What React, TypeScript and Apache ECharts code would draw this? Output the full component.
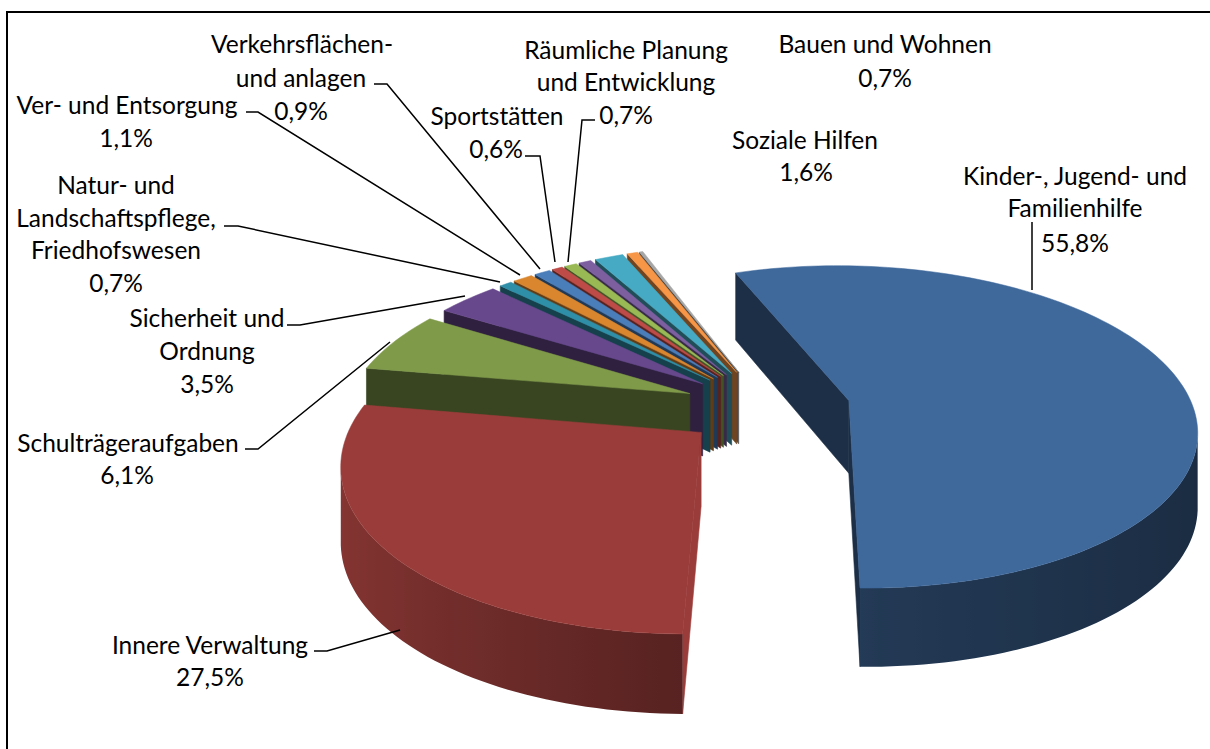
import React, { useEffect, useRef } from "react";
import * as echarts from "echarts";

const names = ["Kinder-, Jugend- und Familienhilfe","Innere Verwaltung","Schulträgeraufgaben","Sicherheit und Ordnung","Natur- und Landschaftspflege, Friedhofswesen","Ver- und Entsorgung","Verkehrsflächen- und anlagen","Sportstätten","Räumliche Planung und Entwicklung","Bauen und Wohnen","Soziale Hilfen","Sonstige 1","Sonstige 2"];
const shares = [55.8, 27.5, 6.1, 3.5, 0.7, 1.1, 0.9, 0.6, 0.7, 0.7, 1.6, 0.6, 0.2];
const colors = ["#3F689B","#9A3D3A","#7F9A49","#68488C","#2F8FA8","#D9862F","#4A7EBB","#BE4B48","#98B954","#7D5FA0","#46AAC4","#F79646","#A6A6A6"];

const labelLines: [string, number, number][][] = [
  [["Verkehrsflächen-",302,43],["und anlagen",301,77],["0,9%",301,110]],
  [["Ver- und Entsorgung",127,104],["1,1%",126,137]],
  [["Natur- und",116,184],["Landschaftspflege,",116,217],["Friedhofswesen",116,249],["0,7%",116,282]],
  [["Sicherheit und",207,317],["Ordnung",207,350],["3,5%",207,383]],
  [["Schulträgeraufgaben",128,442],["6,1%",127,474]],
  [["Innere Verwaltung",210,644],["27,5%",210,676]],
  [["Räumliche Planung",626,49],["und Entwicklung",626,81],["0,7%",626,114]],
  [["Sportstätten",497,115],["0,6%",496,148]],
  [["Bauen und Wohnen",885,43],["0,7%",885,77]],
  [["Soziale Hilfen",805,139],["1,6%",806,171]],
  [["Kinder-, Jugend- und",1075,175],["Familienhilfe",1075,207],["55,8%",1075,242]],
];
const leaders: number[][][] = [
  [[374,84],[387,84],[540,269]],
  [[246,112],[258,112],[520,275]],
  [[224,226],[238,226],[500,282]],
  [[287,325],[300,325],[465,296]],
  [[245,449],[258,449],[390,342]],
  [[314,651],[327,651],[400,630]],
  [[595,120],[582,120],[568,262]],
  [[525,156],[540,156],[555,262]],
  [[1032,222],[1032,290]],
];

const VX = 767, VY = 407, A = 344, B = 159, K = 0.165, EXPLODE = 0.243, START = -20.2;

function project(X: number, Y: number) {
  const s = 1 / (1 + K * Y);
  return [VX + A * X * s, VY - B * Y * s];
}
function height(Y: number) { return 73 - 6 * Y; }
function shade(hex: string, f: number) {
  const n = parseInt(hex.slice(1), 16);
  const c = [(n >> 16) & 255, (n >> 8) & 255, n & 255].map((v) => Math.round(v * f));
  return `rgb(${c[0]},${c[1]},${c[2]})`;
}
const rad = (d: number) => (d * Math.PI) / 180;
function area(p: number[][]) {
  let a = 0;
  for (let i = 0; i < p.length; i++) {
    const q = p[(i + 1) % p.length];
    a += p[i][0] * q[1] - q[0] * p[i][1];
  }
  return a;
}
function rimLight(d: number) {
  const s = Math.sin(rad(d));
  return s > 0 ? 0.55 - 0.13 * s : 0.56 + 0.31 * -s;
}

type Slice = { i: number; a0: number; a1: number; mid: number };
const total = shares.reduce((a, b) => a + b, 0);
let acc = START;
const slices: Slice[] = shares.map((v, i) => {
  const a0 = acc;
  const a1 = acc + (v / total) * 360;
  acc = a1;
  return { i, a0, a1, mid: (a0 + a1) / 2 };
});
const order = slices.slice().sort((p, q) => Math.cos(rad(q.mid)) - Math.cos(rad(p.mid)));

function buildSlice(s: Slice) {
  const base = colors[s.i];
  const ox = EXPLODE * Math.sin(rad(s.mid));
  const oy = EXPLODE * Math.cos(rad(s.mid));
  const world = (d: number) => [ox + Math.sin(rad(d)), oy + Math.cos(rad(d))];
  const steps = Math.max(2, Math.ceil((s.a1 - s.a0) / 1.5));
  const rim: number[][] = [];
  for (let k = 0; k <= steps; k++) rim.push(world(s.a0 + ((s.a1 - s.a0) * k) / steps));
  const top = (w: number[]) => project(w[0], w[1]);
  const bot = (w: number[]) => { const p = project(w[0], w[1]); return [p[0], p[1] + height(w[1])]; };
  const apex = [ox, oy];
  const children: any[] = [];
  const quad = (w0: number[], w1: number[], fill: string) => ({
    type: "polygon",
    shape: { points: [top(w0), top(w1), bot(w1), bot(w0)] },
    style: { fill, stroke: fill, lineWidth: 0.6 },
  });
  const w0 = rim[0], w1 = rim[rim.length - 1];
  const startQuad = [top(apex), top(w0), bot(w0), bot(apex)];
  const endQuad = [top(apex), top(w1), bot(w1), bot(apex)];
  const startLit = 0.45 + 0.55 * Math.max(0, Math.sin(rad(s.a0 - 90)));
  const endLit = 0.45 + 0.55 * Math.max(0, Math.sin(rad(s.a1 + 90)));
  if (area(startQuad) < 0) children.push(quad(apex, w0, shade(base, startLit)));
  if (area(endQuad) > 0) children.push(quad(apex, w1, shade(base, endLit)));

  // outer wall: one polygon for the part facing the viewer, shaded along x
  const vis: { w: number[]; d: number }[] = [];
  for (let k = 0; k <= steps; k++) {
    const d = s.a0 + ((s.a1 - s.a0) * k) / steps;
    const prev = rim[Math.max(0, k - 1)], next = rim[Math.min(steps, k + 1)];
    if (area([top(prev), top(next), bot(next), bot(prev)]) < 0) vis.push({ w: rim[k], d });
  }
  if (vis.length > 1) {
    const xs = vis.map((v) => top(v.w)[0]);
    const xMin = Math.min(...xs), xMax = Math.max(...xs);
    const span = Math.max(1, xMax - xMin);
    const stops = vis
      .map((v, j) => ({ offset: (xs[j] - xMin) / span, color: shade(base, rimLight(v.d)) }))
      .sort((p, q) => p.offset - q.offset);
    const pts = [...vis.map((v) => top(v.w)), ...vis.slice().reverse().map((v) => bot(v.w))];
    const fill = new echarts.graphic.LinearGradient(0, 0, 1, 0, stops);
    children.push({ type: "polygon", shape: { points: pts }, style: { fill, stroke: "none" } });
  }

  const face = [top(apex), ...rim.map(top)];
  children.push({ type: "polygon", shape: { points: face }, style: { fill: base, stroke: base, lineWidth: 0.5 } });
  return { type: "group", children };
}

export default function App() {
  const ref = useRef<HTMLDivElement>(null);
  useEffect(() => {
    const chart = echarts.init(ref.current!, undefined, { renderer: "svg" });
    const font = { fontFamily: "Lato", fontSize: 24.5, fill: "#000" };
    const graphics: any[] = [];
    graphics.push({ type: "polyline", z: 5, silent: true, shape: { points: [[7, 749], [7, 12], [1210, 12]] }, style: { stroke: "#000", lineWidth: 2, fill: "none" } });
    labelLines.forEach((ls) => ls.forEach(([t, x, y]) => {
      graphics.push({ type: "text", z: 5, x, y, style: { ...font, text: t, align: "center", verticalAlign: "middle" } });
    }));
    leaders.forEach((pts) => graphics.push({ type: "polyline", z: 5, shape: { points: pts }, style: { stroke: "#000", lineWidth: 1.5, fill: "none" } }));
    chart.setOption({
      animation: false,
      backgroundColor: "#fff",
      xAxis: { show: false }, yAxis: { show: false },
      graphic: graphics,
      series: [{
        type: "custom",
        coordinateSystem: "none",
        silent: true,
        data: order.map((s) => ({ name: names[s.i], value: shares[s.i] })),
        renderItem: (params: any) => buildSlice(order[params.dataIndex]),
      }],
    });
    return () => chart.dispose();
  }, []);
  return <div ref={ref} style={{ position: "fixed", left: 0, top: 0, width: 1210, height: 749 }} />;
}
